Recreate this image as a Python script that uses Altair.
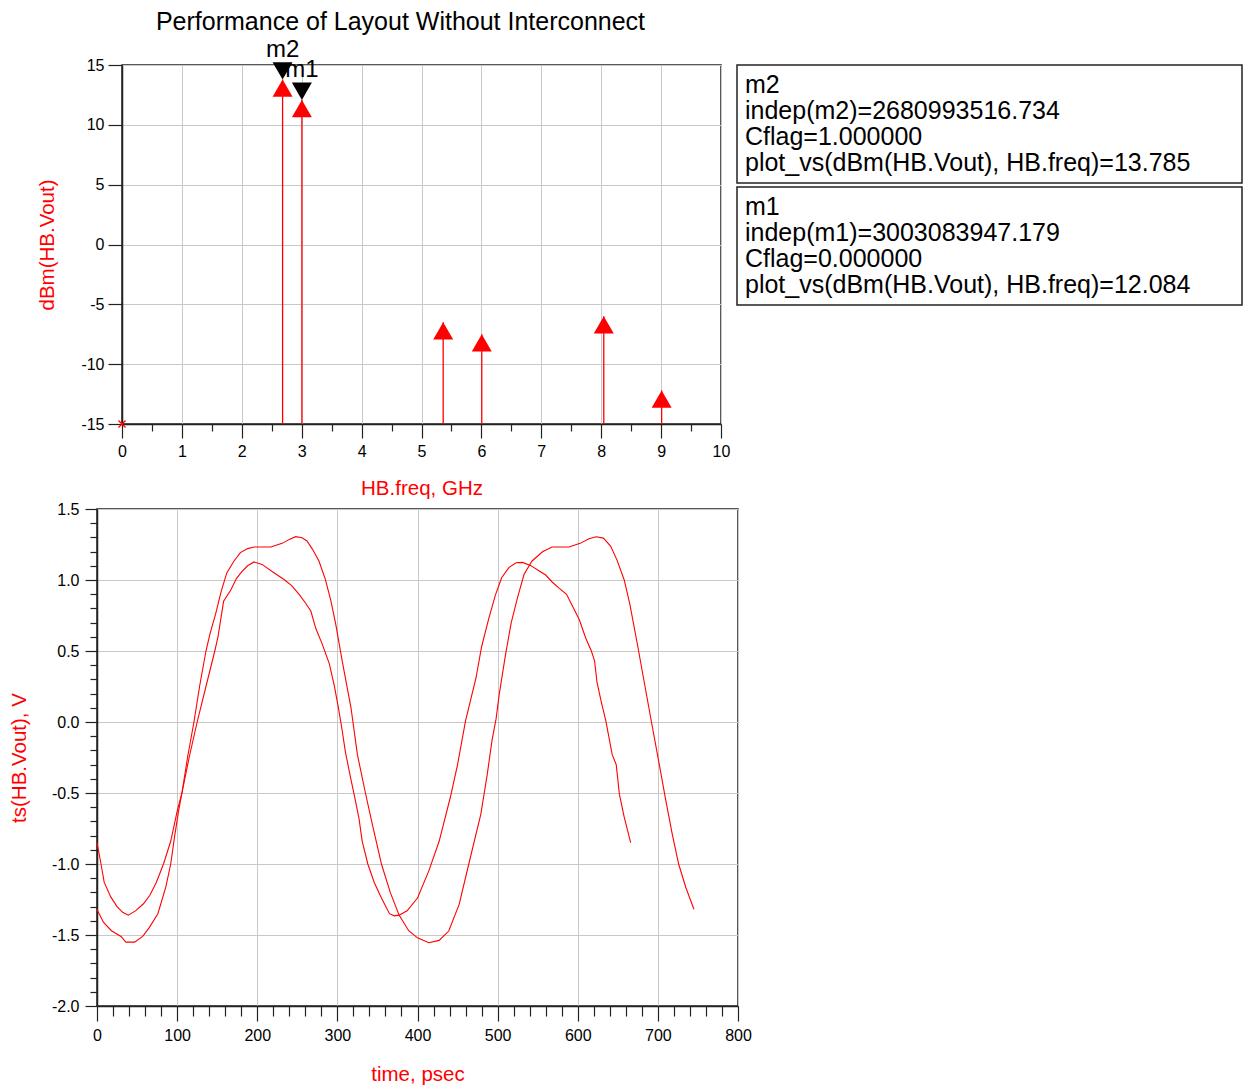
import altair as alt
import pandas as pd

FONT = "Liberation Sans"
RED = "#ff0000"
GRID = "#c8c8c8"
FRAME = "#222222"

# ---------------- top panel: harmonic spectrum ----------------
SPEC_FREQ_GHZ = [2.681, 3.003, 5.362, 6.006, 8.043, 9.009]
SPEC_DBM = [13.785, 12.084, -6.5, -7.5, -6.0, -12.2]
DC_FREQ_GHZ = [0.0]
DC_DBM = [-15.0]

MARKER_NAMES = ["m2", "m1"]
MARKER_FREQ_GHZ = [2.680993516734, 3.003083947179]
MARKER_DBM = [13.785, 12.084]
MARKER_INDEP = ["2680993516.734", "3003083947.179"]
MARKER_CFLAG = ["1.000000", "0.000000"]
MARKER_VALUE_TXT = ["13.785", "12.084"]

FREQ_TICKS = [i * 0.5 for i in range(21)]
DBM_TICKS = [-15, -10, -5, 0, 5, 10, 15]

# ---------------- bottom panel: time-domain waveforms ----------------
T1_PS = [0, 5, 9, 17, 25, 32, 39, 48, 58, 66, 74, 83, 92, 100, 106, 115, 125, 136, 147, 151,
         158, 167, 174, 181, 188, 196, 206, 219, 233, 243, 252, 260, 267, 273, 281, 290, 296,
         301, 306, 310, 316, 322, 327, 331, 338, 346, 355, 365, 371, 377, 387, 400, 414, 427,
         441, 450, 460, 473, 480, 489, 497, 505, 514, 523, 531, 541, 552, 560, 568, 577, 586,
         594, 602, 610, 617, 621, 624, 629, 635, 643, 648, 652, 658, 666]
V1_V = [-0.85, -1.00, -1.13, -1.23, -1.30, -1.34, -1.36, -1.33, -1.28, -1.22, -1.13, -1.00,
        -0.84, -0.63, -0.50, -0.25, 0.00, 0.25, 0.50, 0.60, 0.85, 0.93, 1.01, 1.06, 1.10, 1.127,
        1.11, 1.058, 1.005, 0.96, 0.90, 0.84, 0.78, 0.66, 0.55, 0.41, 0.26, 0.11, -0.06, -0.21,
        -0.38, -0.54, -0.68, -0.84, -1.00, -1.13, -1.24, -1.35, -1.365, -1.36, -1.33, -1.24,
        -1.05, -0.84, -0.53, -0.30, 0.01, 0.31, 0.53, 0.73, 0.89, 1.016, 1.087, 1.122, 1.124,
        1.103, 1.063, 1.035, 0.986, 0.941, 0.899, 0.81, 0.72, 0.59, 0.50, 0.43, 0.28, 0.15,
        0.01, -0.23, -0.30, -0.51, -0.67, -0.85]

T2_PS = [0, 8, 18, 30, 36, 47, 57, 65, 76, 86, 92, 97, 102, 106, 113, 121, 128, 136, 141, 148,
         155, 162, 171, 179, 188, 196, 217, 231, 240, 248, 256, 262, 269, 277, 285, 292, 298,
         306, 317, 325, 335, 344, 355, 366, 377, 389, 400, 414, 427, 439, 452, 464, 479, 487,
         493, 498, 502, 510, 517, 525, 533, 543, 556, 568, 589, 603, 614, 623, 632, 641, 649,
         658, 665, 675, 683, 692, 701, 710, 718, 726, 735, 745]
V2_V = [-1.32, -1.41, -1.47, -1.51, -1.55, -1.55, -1.51, -1.45, -1.35, -1.16, -1.00, -0.80,
        -0.62, -0.50, -0.25, 0.00, 0.25, 0.50, 0.62, 0.76, 0.92, 1.05, 1.134, 1.193, 1.221, 1.232,
        1.232, 1.258, 1.286, 1.305, 1.298, 1.275, 1.216, 1.134, 1.005, 0.852, 0.688, 0.43, 0.10,
        -0.23, -0.50, -0.73, -1.00, -1.20, -1.36, -1.47, -1.52, -1.554, -1.538, -1.472, -1.284,
        -1.00, -0.65, -0.37, -0.13, 0.02, 0.195, 0.48, 0.70, 0.88, 1.04, 1.134, 1.199, 1.232,
        1.232, 1.258, 1.291, 1.305, 1.295, 1.239, 1.14, 1.00, 0.83, 0.53, 0.28, 0.00, -0.275,
        -0.556, -0.791, -1.002, -1.167, -1.319]

TIME_TICKS = list(range(0, 801, 20))
VOLT_TICKS = [round(-2.0 + 0.1 * i, 1) for i in range(36)]

# ---------------- frames ----------------
spec_df = pd.DataFrame({"f": SPEC_FREQ_GHZ, "dbm": SPEC_DBM})
dc_df = pd.DataFrame({"f": DC_FREQ_GHZ, "dbm": DC_DBM})
mk_df = pd.DataFrame({"f": MARKER_FREQ_GHZ, "dbm": MARKER_DBM, "name": MARKER_NAMES})

wave_df = pd.concat([
    pd.DataFrame({"t": T1_PS, "v": V1_V, "series": "a", "idx": range(len(T1_PS))}),
    pd.DataFrame({"t": T2_PS, "v": V2_V, "series": "b", "idx": range(len(T2_PS))}),
], ignore_index=True)

MINUS = "replace(datum.label, '\u2212', '-')"

# ---------------- top chart ----------------
x_top = alt.X(
    "f:Q",
    scale=alt.Scale(domain=[0, 10], nice=False),
    axis=alt.Axis(
        values=FREQ_TICKS, title="HB.freq, GHz",
        labelExpr="datum.value % 1 === 0 ? format(datum.value, 'd') : ''",
        tickSize={"condition": {"test": "datum.value % 1 === 0", "value": 14}, "value": 7},
        gridOpacity={"condition": {"test": "datum.value % 1 === 0", "value": 1}, "value": 0},
        labelPadding=5, titlePadding=19, labelOverlap=False, labelFlush=False,
    ),
)
y_top = alt.Y(
    "dbm:Q",
    scale=alt.Scale(domain=[-15, 15], nice=False),
    axis=alt.Axis(
        values=DBM_TICKS, title="dBm(HB.Vout)", tickSize=14, labelPadding=4,
        labelExpr=MINUS,
        titleX=-75, titleBaseline="middle", titleAngle=270, labelOverlap=False,
        labelFlush=False,
    ),
)

stems = alt.Chart(spec_df).mark_rule(color=RED, strokeWidth=1.3).encode(
    x=x_top, y=y_top, y2=alt.datum(-15)
)
tri_up = alt.Chart(spec_df).mark_point(
    shape="triangle-up", filled=True, size=400, color=RED, opacity=1, yOffset=8.66
).encode(x=x_top, y=y_top)
dc = alt.Chart(dc_df).mark_point(
    shape="M-1,-1L1,1M-1,1L1,-1", size=50, color=RED, filled=False, opacity=1, strokeWidth=1.3
).encode(x=x_top, y=y_top)
tri_dn = alt.Chart(mk_df).mark_point(
    shape="triangle-down", filled=True, size=400, color="black", opacity=1, yOffset=-8.66
).encode(x=x_top, y=y_top)
mk_lbl = alt.Chart(mk_df).mark_text(
    baseline="bottom", dy=-18, fontSize=24, font=FONT, color="black"
).encode(x=x_top, y=y_top, text="name:N")

top = alt.layer(stems, tri_up, dc, tri_dn, mk_lbl).properties(
    width=599, height=359,
    title=alt.TitleParams(
        "Performance of Layout Without Interconnect", fontSize=25, font=FONT,
        fontWeight="normal", color="black", anchor="middle", frame="group", dx=-21, offset=3,
    ),
)

# ---------------- marker readout boxes ----------------
def readout(i):
    lines = [
        MARKER_NAMES[i],
        f"indep({MARKER_NAMES[i]})={MARKER_INDEP[i]}",
        f"Cflag={MARKER_CFLAG[i]}",
        f"plot_vs(dBm(HB.Vout), HB.freq)={MARKER_VALUE_TXT[i]}",
    ]
    df = pd.DataFrame({"line": list(range(4)), "txt": lines})
    return alt.Chart(df).mark_text(
        align="left", baseline="middle", fontSize=25, font=FONT, color="black"
    ).encode(
        x=alt.value(8),
        y=alt.Y("line:O", axis=None, scale=alt.Scale(type="point", padding=0.77)),
        text="txt:N",
    ).properties(width=505, height=118,
                 view=alt.ViewBackground(stroke=FRAME, strokeWidth=1.5))

panel = alt.vconcat(readout(0), readout(1), spacing=2)

spacer = alt.Chart(pd.DataFrame({"a": [0]})).mark_point(opacity=0).encode(
    x=alt.X("a:Q", axis=None), y=alt.Y("a:Q", axis=None)
).properties(width=9, height=10, view=alt.ViewBackground(stroke="transparent"))

top_row = alt.hconcat(spacer, top, panel, spacing=16, bounds="flush")

# ---------------- bottom chart ----------------
x_bot = alt.X(
    "t:Q",
    scale=alt.Scale(domain=[0, 800], nice=False),
    axis=alt.Axis(
        values=TIME_TICKS, title="time, psec",
        labelExpr="datum.value % 100 === 0 ? format(datum.value, 'd') : ''",
        tickSize={"condition": {"test": "datum.value % 100 === 0", "value": 15}, "value": 10},
        gridOpacity={"condition": {"test": "datum.value % 100 === 0", "value": 1}, "value": 0},
        labelPadding=6, titlePadding=21, labelOverlap=False, labelFlush=False,
    ),
)
major_v = "abs(datum.value * 2 - round(datum.value * 2)) < 0.001"
y_bot = alt.Y(
    "v:Q",
    scale=alt.Scale(domain=[-2.0, 1.5], nice=False),
    axis=alt.Axis(
        values=VOLT_TICKS, title="ts(HB.Vout), V",
        labelExpr=f"{major_v} ? replace(format(datum.value, '.1f'), '\u2212', '-') : ''",
        tickSize={"condition": {"test": major_v, "value": 12}, "value": 7},
        gridOpacity={"condition": {"test": major_v, "value": 1}, "value": 0},
        labelPadding=6, titleX=-78, titleBaseline="middle", titleAngle=270,
        labelOverlap=False, labelFlush=False,
    ),
)
bottom = alt.Chart(wave_df).mark_line(color=RED, strokeWidth=1.1).encode(
    x=x_bot, y=y_bot, detail="series:N", order="idx:Q"
).properties(width=641, height=497)

chart = alt.vconcat(top_row, bottom, spacing=0, padding=0).configure_view(
    stroke=FRAME, strokeWidth=1.5
).configure_axis(
    labelFont=FONT, labelFontSize=16, labelColor="black",
    titleFont=FONT, titleFontSize=20.5, titleColor=RED, titleFontWeight="normal",
    domainColor=FRAME, domainWidth=1.5, tickColor=FRAME, tickWidth=1.2,
    gridColor=GRID, gridWidth=1,
)

chart.save("out.html", embed_options={"renderer": "svg", "actions": False})
